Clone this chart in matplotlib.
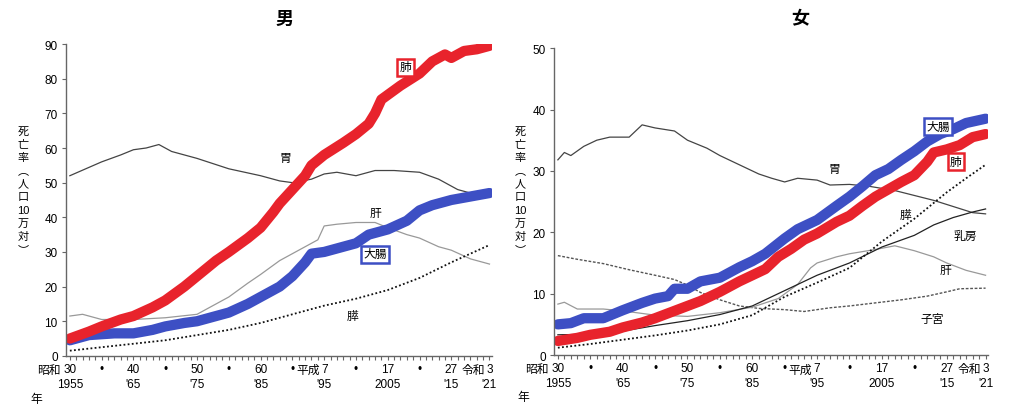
import matplotlib
matplotlib.use("Agg")
import matplotlib.pyplot as plt
import matplotlib.transforms as mtransforms
from matplotlib.ticker import MultipleLocator

plt.rcParams['font.family'] = ['Liberation Sans', 'Noto Sans CJK JP', 'DejaVu Sans']

# ---------------- data: male ----------------
m_stomach_x = [1955, 1960, 1963, 1965, 1967, 1969, 1971, 1975, 1980, 1985, 1988, 1990, 1993, 1995, 1997, 2000, 2003, 2006, 2010, 2013, 2016, 2019, 2021]
m_stomach_y = [52, 56, 58, 59.5, 60, 61, 59, 57, 54, 52, 50.5, 50, 51, 52.5, 53, 52, 53.5, 53.5, 53, 51, 48, 46.5, 46]

m_lung_x = [1955, 1958, 1960, 1963, 1965, 1968, 1970, 1973, 1975, 1978, 1980, 1983, 1985, 1987, 1988, 1990, 1992, 1993, 1995, 1998, 2000, 2002, 2003, 2004, 2007, 2010, 2012, 2014, 2015, 2017, 2019, 2021]
m_lung_y = [5, 7, 8.5, 10.5, 11.5, 14, 16, 20, 23, 27.5, 30, 34, 37, 41.5, 44, 48, 52, 55, 58, 61.5, 64, 67, 70, 74, 78, 81.5, 85, 87, 86, 88, 88.5, 89.5]

m_colon_x = [1955, 1958, 1962, 1965, 1968, 1970, 1973, 1975, 1978, 1980, 1983, 1985, 1988, 1990, 1992, 1993, 1995, 1997, 2000, 2002, 2005, 2008, 2010, 2012, 2015, 2018, 2021]
m_colon_y = [4.5, 6, 6.5, 6.5, 7.5, 8.5, 9.5, 10, 11.5, 12.5, 15, 17, 20, 23, 27, 29.5, 30, 31, 32.5, 35, 36.5, 39, 42, 43.5, 45, 46, 47]

m_liver_x = [1955, 1957, 1960, 1965, 1970, 1975, 1978, 1980, 1983, 1985, 1988, 1990, 1994, 1995, 1997, 2000, 2003, 2005, 2008, 2010, 2013, 2015, 2018, 2021]
m_liver_y = [11.5, 12, 10.5, 10.5, 11, 12, 15, 17, 21, 23.5, 27.5, 29.5, 33.5, 37.5, 38, 38.5, 38.5, 37, 35, 34, 31.5, 30.5, 28, 26.5]

m_pancreas_x = [1955, 1960, 1965, 1970, 1975, 1980, 1985, 1990, 1995, 2000, 2005, 2010, 2015, 2018, 2021]
m_pancreas_y = [1.5, 2.5, 3.5, 4.5, 6, 7.5, 9.5, 12, 14.5, 16.5, 19, 22.5, 27, 29.5, 32]

# ---------------- data: female ----------------
f_stomach_x = [1955, 1956, 1957, 1959, 1961, 1963, 1966, 1968, 1970, 1973, 1975, 1978, 1980, 1983, 1986, 1988, 1990, 1992, 1995, 1997, 2000, 2003, 2007, 2010, 2013, 2016, 2019, 2021]
f_stomach_y = [31.8, 33, 32.5, 34, 35, 35.5, 35.5, 37.5, 37, 36.5, 35, 33.7, 32.5, 31, 29.5, 28.8, 28.2, 28.8, 28.5, 27.7, 27.8, 27.5, 26.8, 26, 25.2, 24.2, 23.2, 23]

f_colon_x = [1955, 1957, 1959, 1962, 1965, 1968, 1970, 1972, 1973, 1975, 1977, 1980, 1983, 1985, 1987, 1990, 1992, 1995, 1998, 2000, 2002, 2004, 2006, 2008, 2010, 2012, 2014, 2016, 2018, 2021]
f_colon_y = [5, 5.2, 6, 6, 7.3, 8.5, 9.2, 9.6, 10.8, 10.8, 12, 12.6, 14.3, 15.3, 16.5, 19, 20.5, 22, 24.3, 25.8, 27.5, 29.3, 30.3, 31.8, 33.2, 34.8, 36, 36.8, 37.8, 38.5]

f_lung_x = [1955, 1958, 1960, 1963, 1965, 1968, 1970, 1973, 1975, 1977, 1980, 1983, 1985, 1987, 1989, 1991, 1993, 1995, 1998, 2000, 2002, 2004, 2006, 2008, 2010, 2012, 2013, 2015, 2017, 2019, 2021]
f_lung_y = [2.3, 2.8, 3.3, 3.8, 4.5, 5.3, 6, 7.2, 8, 8.8, 10.3, 12, 13, 14, 16, 17.3, 18.8, 19.8, 21.7, 22.7, 24.3, 25.8, 27, 28.2, 29.3, 31.5, 33, 33.5, 34.2, 35.5, 36]

f_pancreas_x = [1955, 1960, 1965, 1970, 1975, 1980, 1985, 1990, 1995, 2000, 2005, 2010, 2015, 2018, 2021]
f_pancreas_y = [1.2, 1.8, 2.5, 3.2, 4, 5, 6.5, 9.5, 11.8, 14.2, 18.5, 22.2, 26.5, 28.8, 31]

f_breast_x = [1955, 1960, 1965, 1970, 1975, 1980, 1985, 1990, 1995, 2000, 2005, 2010, 2013, 2016, 2019, 2021]
f_breast_y = [3.3, 3.4, 3.9, 4.8, 5.6, 6.6, 8, 10.5, 13, 15, 17.6, 19.5, 21.2, 22.4, 23.3, 23.8]

f_liver_x = [1955, 1956, 1958, 1962, 1965, 1970, 1975, 1980, 1985, 1989, 1992, 1994, 1995, 1998, 2000, 2004, 2007, 2010, 2013, 2015, 2018, 2021]
f_liver_y = [8.3, 8.6, 7.5, 7.5, 7.2, 6.5, 6.3, 6.9, 7.8, 9.2, 11.5, 14.2, 15, 16, 16.5, 17.2, 17.8, 17, 16, 15, 13.8, 13]

f_uterus_x = [1955, 1958, 1962, 1966, 1970, 1973, 1975, 1977, 1980, 1983, 1986, 1990, 1993, 1997, 2000, 2004, 2008, 2012, 2015, 2017, 2021]
f_uterus_y = [16.2, 15.6, 14.9, 13.9, 13, 12.3, 11.4, 10.2, 9, 8, 7.6, 7.4, 7.1, 7.7, 8, 8.5, 9, 9.6, 10.3, 10.8, 10.9]

tick_years = [1955, 1960, 1965, 1970, 1975, 1980, 1985, 1990, 1995, 2000, 2005, 2010, 2015, 2021]
tick_era_nums = ["30", "•", "40", "•", "50", "•", "60", "•", "7", "•", "17", "•", "27", "3"]
tick_west = ["1955", "", "'65", "", "'75", "", "'85", "", "'95", "", "2005", "", "'15", "'21"]
eras = [("昭和", 1953.6, "right"), ("平成", 1992.4, "center"), ("令和", 2018.5, "center")]

RED = '#e8232c'
BLUE = '#3d4fc4'

fig = plt.figure(figsize=(10.24, 4.06), dpi=100)
axL = fig.add_axes([0.0645, 0.121, 0.416, 0.768])
axR = fig.add_axes([0.541, 0.123, 0.424, 0.756])

def style(ax, ymax, ylab_x):
    ax.set_xlim(1954.4, 2021.4)
    ax.set_ylim(0, ymax)
    for s in ['top', 'right']:
        ax.spines[s].set_visible(False)
    for s in ['left', 'bottom']:
        ax.spines[s].set_color('#666666')
        ax.spines[s].set_linewidth(1.0)
    ax.yaxis.set_major_locator(MultipleLocator(10))
    ax.xaxis.set_minor_locator(MultipleLocator(1))
    ax.set_xticks(tick_years)
    ax.set_xticklabels(tick_era_nums, fontsize=8.5)
    ax.tick_params(axis='x', which='both', length=3, width=0.8, color='#666666', pad=2)
    ax.tick_params(axis='y', length=3, width=0.8, color='#666666', labelsize=8.5, pad=3)
    trans = mtransforms.blended_transform_factory(ax.transData, ax.transAxes)
    for xx, s in zip(tick_years, tick_west):
        if s:
            ax.text(xx, -0.072, s, transform=trans, ha='center', va='top', fontsize=8.5)
    for name, xx, ha in eras:
        ax.text(xx, -0.027, name, transform=trans, ha=ha, va='top', fontsize=8.5)
    ax.text(-0.07, -0.118, "年", transform=ax.transAxes, ha='center', va='top', fontsize=8.5)
    fig.text(ylab_x, 0.53, "死\n亡\n率\n︵\n人\n口\n10\n万\n対\n︶",
             ha='center', va='center', fontsize=8, linespacing=1.4)

def thin(ax, x, y, **kw):
    ax.plot(x, y, **kw)

def thick(ax, x, y, c):
    ax.plot(x, y, color=c, lw=7.4, solid_capstyle='round', solid_joinstyle='round')

def boxlab(ax, x, y, s, c):
    ax.text(x, y, s, fontsize=8.5, ha='center', va='center',
            bbox=dict(boxstyle='square,pad=0.2', fc='white', ec=c, lw=1.8), zorder=10)

# left: male
style(axL, 90, 0.0225)
thin(axL, m_stomach_x, m_stomach_y, color='#444444', lw=0.9)
thin(axL, m_liver_x, m_liver_y, color='#999999', lw=0.9)
thin(axL, m_pancreas_x, m_pancreas_y, color='#111111', lw=1.3, ls=(0, (1, 1.3)))
thick(axL, m_colon_x, m_colon_y, BLUE)
thick(axL, m_lung_x, m_lung_y, RED)
axL.text(1988.9, 57.0, "胃", fontsize=8.5, ha='center', va='center')
axL.text(2003.0, 41.1, "肝", fontsize=8.5, ha='center', va='center')
axL.text(1999.4, 11.5, "膵", fontsize=8.5, ha='center', va='center')
boxlab(axL, 2007.8, 83.3, "肺", RED)
boxlab(axL, 2003.0, 29.3, "大腸", BLUE)

# right: female
style(axR, 50, 0.508)
thin(axR, f_stomach_x, f_stomach_y, color='#444444', lw=0.9)
thin(axR, f_uterus_x, f_uterus_y, color='#555555', lw=1.0, ls=(0, (2, 1.2)))
thin(axR, f_liver_x, f_liver_y, color='#999999', lw=0.9)
thin(axR, f_breast_x, f_breast_y, color='#222222', lw=0.9)
thin(axR, f_pancreas_x, f_pancreas_y, color='#111111', lw=1.3, ls=(0, (1, 1.3)))
thick(axR, f_colon_x, f_colon_y, BLUE)
thick(axR, f_lung_x, f_lung_y, RED)
axR.text(1997.6, 30.3, "胃", fontsize=8.5, ha='center', va='center')
axR.text(2008.7, 22.8, "膵", fontsize=8.5, ha='center', va='center')
axR.text(2017.9, 19.4, "乳房", fontsize=8.5, ha='center', va='center')
axR.text(2014.8, 13.9, "肝", fontsize=8.5, ha='center', va='center')
axR.text(2012.8, 5.9, "子宮", fontsize=8.5, ha='center', va='center')
boxlab(axR, 2013.7, 37.2, "大腸", BLUE)
boxlab(axR, 2016.4, 31.5, "肺", RED)

fig.text(285 / 1024, 1 - 20 / 406, "男", fontsize=13, fontweight='bold', ha='center', va='center')
fig.text(800 / 1024, 1 - 20 / 406, "女", fontsize=13, fontweight='bold', ha='center', va='center')

fig.savefig("out.png", dpi=100)
